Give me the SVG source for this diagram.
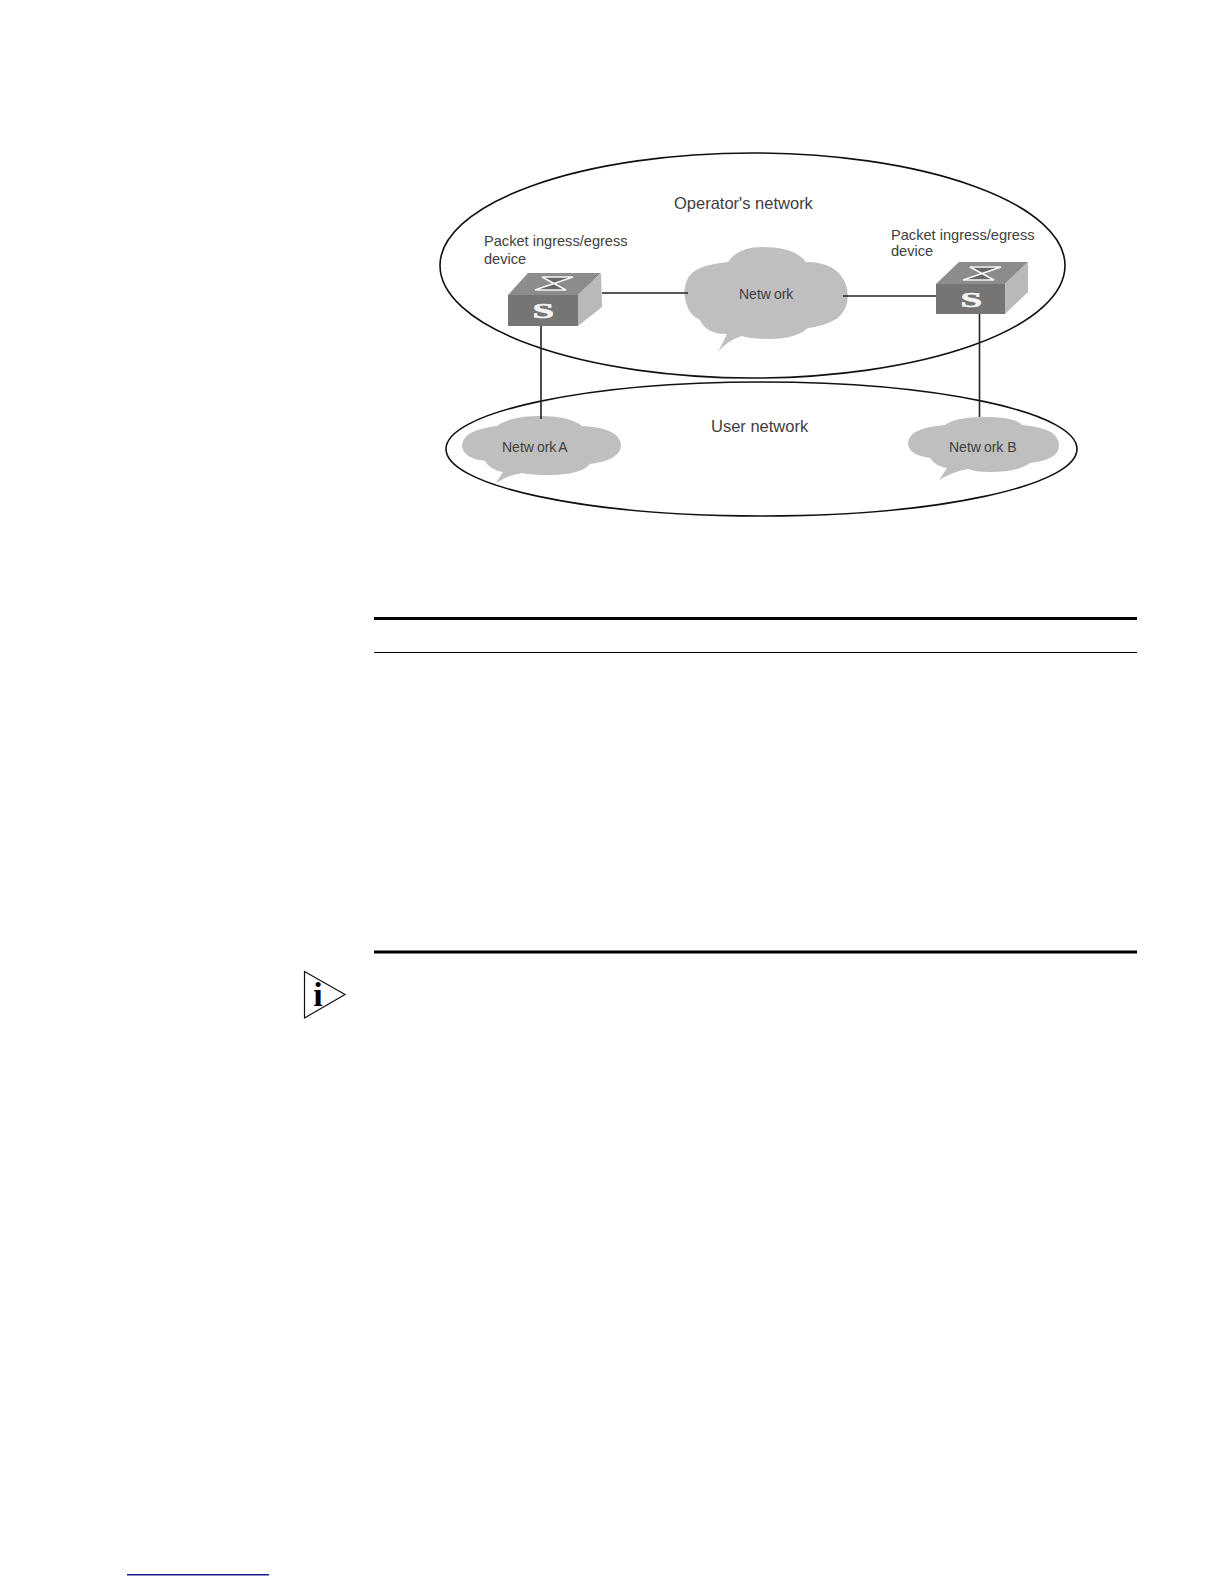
<svg xmlns="http://www.w3.org/2000/svg" width="1224" height="1584" viewBox="0 0 1224 1584">
<style>
.region{fill:none;stroke:#111;stroke-width:1.6}
.cloud{fill:#bfbfbf}
.link{stroke:#222;stroke-width:1.6;fill:none}
.top{fill:#8c8c8c}.front{fill:#757575}.side{fill:#b9b9b9}
.xm{fill:#666;stroke:#f4f4f4;stroke-width:1.7;stroke-linejoin:miter}
text{font-family:"Liberation Sans",Arial,sans-serif;fill:#404040}
.t16{font-size:16.5px}.t14{font-size:14.6px}.t13{font-size:14px}
.s{font-family:"Liberation Serif","Times New Roman",serif;font-weight:bold;font-size:21px;fill:#f4f4f4;stroke:#f4f4f4;stroke-width:.6}
.rule{fill:#000}
</style>
<rect width="1224" height="1584" fill="#fff"/>
<g id="region-operator"><ellipse class="region" cx="752.5" cy="265.5" rx="312.5" ry="112.5"/></g>
<g id="region-user"><ellipse class="region" cx="761.5" cy="449" rx="315.5" ry="67"/></g>
<g id="cloud-network"><path class="cloud" d="M718 352L727 334Q706 334 700 320Q690 316 686 303Q682 290 688 278Q695 265 728 262Q738 247 762 247Q795 247 806 262Q838 262 846 285Q852 305 838 318Q825 326 808 328Q795 339 770 339Q750 339 742 336Q728 340 718 352Z"/>
<text class="t13" x="739" y="299">Netw<tspan dx="3">ork</tspan></text></g>
<g id="cloud-a"><path class="cloud" d="M496 483L503 472Q490 470 485 461Q462 458 462 445Q463 430 497 426Q510 416 540 416Q570 416 582 426Q621 428 621 446Q620 460 590 464Q580 475 550 475Q530 475 522 473Q508 475 496 483Z"/>
<text class="t13" x="502" y="452">Netw<tspan dx="3">ork</tspan><tspan dx="2">A</tspan></text></g>
<g id="cloud-b"><path class="cloud" d="M939 480L947 468Q935 466 930 458Q908 455 908 443Q908 428 945 425Q955 417 985 417Q1015 417 1022 425Q1059 428 1059 445Q1059 460 1030 463Q1018 472 990 472Q975 472 968 469Q952 472 939 480Z"/>
<text class="t13" x="949" y="452">Netw<tspan dx="3">ork</tspan> B</text></g>
<g id="connectors">
<line class="link" x1="602" y1="293" x2="688" y2="293"/>
<line class="link" x1="843" y1="296" x2="936" y2="296"/>
<line class="link" x1="541" y1="326" x2="541" y2="419"/>
<line class="link" x1="979.5" y1="314" x2="979.5" y2="417"/>
</g>
<g id="switch-left">
<polygon class="top" points="508,295 528,273 601,273 578,295"/>
<polygon class="front" points="508,295 578,295 578,326 508,326"/>
<polygon class="side" points="578,295 601,273 602,307 578,326"/>
<path class="xm" d="M542 277H573L535 290H566Z"/>
<text class="s" transform="translate(532.500 317.500) scale(1.85 1)" x="0" y="0">S</text>
</g>
<g id="switch-right">
<polygon class="top" points="936,284 959,262 1028,262 1005,284"/>
<polygon class="front" points="936,284 1005,284 1005,314 936,314"/>
<polygon class="side" points="1005,284 1028,262 1028,292 1005,314"/>
<path class="xm" d="M970 267H1001L963 280H994Z"/>
<text class="s" transform="translate(960.500 306.500) scale(1.85 1)" x="0" y="0">S</text>
</g>
<g id="labels">
<text class="t16" x="674" y="209">Operator's network</text>
<text class="t14" x="484" y="246">Packet ingress/egress</text>
<text class="t14" x="484" y="264">device</text>
<text class="t14" x="891" y="240">Packet ingress/egress</text>
<text class="t14" x="891" y="255.500">device</text>
<text class="t16" x="711" y="431.500">User network</text>
</g>
<g id="rules">
<rect class="rule" x="374" y="617" width="763" height="3"/>
<rect class="rule" x="374" y="652" width="763" height="1"/>
<rect class="rule" x="374" y="950.500" width="763" height="3"/>
<rect x="127" y="1574" width="142" height="1.500" fill="#1a1a8c"/>
</g>
<g id="note-icon">
<polygon points="304.500,971.500 345,994.500 304.500,1018" fill="#fff" stroke="#111" stroke-width="1.200"/>
<text x="318" y="1006" text-anchor="middle" style="font-family:'Liberation Serif',serif;font-weight:bold;font-size:34px;fill:#000">i</text>
</g>
</svg>
